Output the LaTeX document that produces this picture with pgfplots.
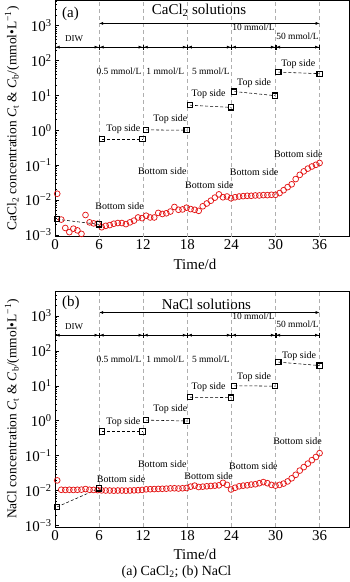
\documentclass[border=0pt]{standalone}
\usepackage{fontspec}
\setmainfont{Liberation Serif}
\usepackage{pgfplots}
\usepackage{pgfplotstable}
\pgfplotsset{compat=1.18}
\usetikzlibrary{arrows.meta}

\definecolor{cred}{RGB}{228,24,24}
\definecolor{vgray}{RGB}{175,175,175}

\pgfplotstableread{
x y
0.3 0.0151
0.85 0.00275
1.4 0.00158
1.95 0.0012
2.5 0.00151
3.05 0.00135
3.6 0.00107
4.15 0.00372
4.7 0.00229
5.25 0.00214
5.8 0.00209
6.35 0.00166
6.9 0.00182
7.45 0.00191
8.0 0.00209
8.55 0.00219
9.1 0.00219
9.65 0.00204
10.2 0.00229
10.75 0.00257
11.3 0.00316
11.85 0.00302
12.4 0.00355
12.95 0.00316
13.5 0.00316
14.05 0.00427
14.6 0.00398
15.15 0.00417
15.7 0.00468
16.25 0.00631
16.8 0.00525
17.35 0.00537
17.9 0.00603
18.45 0.0055
19.0 0.00525
19.55 0.0049
20.1 0.00661
20.65 0.00794
21.2 0.00955
21.75 0.0117
22.3 0.0145
22.85 0.012
23.4 0.0126
23.95 0.0112
24.5 0.012
25.05 0.0126
25.6 0.0129
26.15 0.0132
26.7 0.0132
27.25 0.0135
27.8 0.0135
28.35 0.0138
28.9 0.0138
29.45 0.0141
30.0 0.0141
30.55 0.0158
31.1 0.0191
31.65 0.0234
32.2 0.0282
32.75 0.0398
33.3 0.0525
33.85 0.0661
34.4 0.0794
34.95 0.0912
35.5 0.102
36.0 0.115
}\cacl

\pgfplotstableread{
x y
0.3 0.0195
0.85 0.0105
1.4 0.0104
1.95 0.0105
2.5 0.0104
3.05 0.0105
3.6 0.0106
4.15 0.0110
4.7 0.0105
5.25 0.0104
5.8 0.0103
6.35 0.0101
6.9 0.0100
7.45 0.0100
8.0 0.0099
8.55 0.0100
9.1 0.0100
9.65 0.0099
10.2 0.0100
10.75 0.0101
11.3 0.0102
11.85 0.0104
12.4 0.0108
12.95 0.0109
13.5 0.0110
14.05 0.0111
14.6 0.0112
15.15 0.0113
15.7 0.0115
16.25 0.0116
16.8 0.0114
17.35 0.0116
17.9 0.0118
18.45 0.0129
19.0 0.0138
19.55 0.0126
20.1 0.0129
20.65 0.0132
21.2 0.0135
21.75 0.0138
22.3 0.0141
22.85 0.0166
23.4 0.0145
23.95 0.0107
24.5 0.0120
25.05 0.0132
25.6 0.0138
26.15 0.0141
26.7 0.0148
27.25 0.0151
27.8 0.0162
28.35 0.0174
28.9 0.0162
29.45 0.0145
30.0 0.0138
30.55 0.0145
31.1 0.0158
31.65 0.0182
32.2 0.0224
32.75 0.0282
33.3 0.0372
33.85 0.0468
34.4 0.0589
34.95 0.0741
35.5 0.0912
36.0 0.1175
}\nacl

\tikzset{
  mycirc/.style={only marks, mark=o, mark size=2.9bp, cred, line width=0.75pt},
  mysq/.style={black, densely dashed, line width=0.55pt, mark=square, mark size=2.6bp, mark options={solid, line width=1.1pt}},
  myts/.style={font=\fontsize{10}{10}\selectfont, inner sep=0pt},
  myms/.style={font=\fontsize{9.5}{10}\selectfont, inner sep=0pt},
  myarr/.style={black, line width=0.55pt, {Bar[width=5bp]Latex[length=4bp,width=3bp]}-{Latex[length=4bp,width=3bp]Bar[width=5bp]}},
  mylarr/.style={black, line width=0.55pt, {Latex[length=4bp,width=3bp]}-{Latex[length=4bp,width=3bp]}},
  myvl/.style={vgray, dash pattern=on 4bp off 3bp, line width=0.6pt},
}

\pgfplotsset{mypanel/.style={
  scale only axis, width=294bp, height=236bp,
  xmin=0, xmax=40, ymin=9e-4, ymax=5200,
  xtick={0,6,12,18,24,30,36},
  ytick={1e-3,1e-2,1e-1,1,10,100,1000},
  yticklabels={10\textsuperscript{−3},10\textsuperscript{−2},10\textsuperscript{−1},10\textsuperscript{0},10\textsuperscript{1},10\textsuperscript{2},10\textsuperscript{3}},
  minor ytick={2e-3,3e-3,4e-3,5e-3,6e-3,7e-3,8e-3,9e-3,2e-2,3e-2,4e-2,5e-2,6e-2,7e-2,8e-2,9e-2,0.2,0.3,0.4,0.5,0.6,0.7,0.8,0.9,2,3,4,5,6,7,8,9,20,30,40,50,60,70,80,90,200,300,400,500,600,700,800,900,2000,3000,4000,5000},
  tick align=inside, xtick pos=left, ytick pos=left,
  major tick length=4bp, minor tick length=2.2bp,
  tick style={black, line width=0.5pt},
  tick label style={font=\fontsize{15}{15}\selectfont},
  xlabel style={font=\fontsize{15}{15}\selectfont, at={(axis description cs:0.476,0)}, anchor=north, inner sep=0pt, yshift=-22bp},
  ylabel style={font=\fontsize{13.5}{14}\selectfont, at={(axis description cs:-0.146,0.5)}, anchor=center},
  axis line style={black, line width=0.6pt},
  clip=false,
}}

\begin{document}
\begin{tikzpicture}
\useasboundingbox (0bp,0bp) rectangle (350bp,-582bp);

% ---------- panel (a) ----------
\begin{semilogyaxis}[mypanel, at={(55bp,-236.5bp)}, anchor=south west,
  xticklabel style={/pgf/number format/assume math mode=true},
  xlabel={Time/d},
  ylabel={CaCl\textsubscript{2} concentration \textit{C}\textsubscript{t} \& \textit{C}\textsubscript{b}/(mmol•L\textsuperscript{−1})}]
  \pgfplotsinvokeforeach{6,12,18,24,30,36}{\draw[myvl] (axis cs:#1,9e-4) -- (axis cs:#1,5200);}
  \addplot[mycirc] table[x=x,y=y] {\cacl};
  \addplot[mysq] coordinates {(0.3,0.0028) (6.0,0.0020)};
  \addplot[mysq] coordinates {(6.4,0.55) (11.9,0.55)};
  \addplot[mysq] coordinates {(12.4,1.02) (17.9,1.0)};
  \addplot[mysq] coordinates {(18.4,5.2) (23.9,4.5)};
  \addplot[mysq] coordinates {(24.4,12.8) (29.9,9.8)};
  \addplot[mysq] coordinates {(30.4,46) (36,41.7)};
  \node[font=\fontsize{15}{15}\selectfont, anchor=west, inner sep=0pt] at (axis cs:0.95,2188) {(a)};
  \node[font=\fontsize{15}{15}\selectfont, inner sep=0pt] at (axis cs:19.6,2692) {CaCl\textsubscript{2} solutions};
  \draw[mylarr] (axis cs:6,1148) -- (axis cs:36,1148);
  \node[myms] at (axis cs:27.0,871) {10 mmol/L};
  \node[font=\fontsize{9}{9}\selectfont, inner sep=0pt] at (axis cs:2.6,427) {DIW};
  \node[myms] at (axis cs:33.0,501) {50 mmol/L};
  \draw[myarr] (axis cs:0,240) -- (axis cs:6,240);
  \draw[myarr] (axis cs:6,240) -- (axis cs:12,240);
  \draw[myarr] (axis cs:12,240) -- (axis cs:18,240);
  \draw[myarr] (axis cs:18,240) -- (axis cs:24,240);
  \draw[myarr] (axis cs:24,240) -- (axis cs:30,240);
  \draw[myarr] (axis cs:30,240) -- (axis cs:36,240);
  \node[myms] at (axis cs:8.7,49) {0.5 mmol/L};
  \node[myms] at (axis cs:15.0,49) {1 mmol/L};
  \node[myms] at (axis cs:21.2,49) {5 mmol/L};
  \node[myts] at (axis cs:9.3,1.07) {Top side};
  \node[myts] at (axis cs:15.7,2.09) {Top side};
  \node[myts] at (axis cs:20.9,10.5) {Top side};
  \node[myts] at (axis cs:27.1,21.9) {Top side};
  \node[myts] at (axis cs:33.1,77.6) {Top side};
  \node[myts] at (axis cs:8.8,0.0069) {Bottom side};
  \node[myts] at (axis cs:14.6,0.0676) {Bottom side};
  \node[myts] at (axis cs:21.0,0.0275) {Bottom side};
  \node[myts] at (axis cs:27.1,0.0646) {Bottom side};
  \node[myts] at (axis cs:33.1,0.209) {Bottom side};
\end{semilogyaxis}

% ---------- panel (b) ----------
\begin{semilogyaxis}[mypanel, at={(55bp,-527bp)}, anchor=south west,
  xticklabel style={/pgf/number format/assume math mode=true},
  xlabel={Time/d},
  ylabel={NaCl concentration \textit{C}\textsubscript{t} \& \textit{C}\textsubscript{b}/(mmol•L\textsuperscript{−1})}]
  \pgfplotsinvokeforeach{6,12,18,24,30,36}{\draw[myvl] (axis cs:#1,9e-4) -- (axis cs:#1,5200);}
  \addplot[mycirc] table[x=x,y=y] {\nacl};
  \addplot[mysq] coordinates {(0.3,0.0034) (6.0,0.0115)};
  \addplot[mysq] coordinates {(6.4,0.49) (11.9,0.49)};
  \addplot[mysq] coordinates {(12.4,1.04) (17.9,0.98)};
  \addplot[mysq] coordinates {(18.4,4.7) (23.9,4.6)};
  \addplot[mysq] coordinates {(24.4,10.0) (29.9,9.8)};
  \addplot[mysq] coordinates {(30.4,47.7) (36,38)};
  \node[font=\fontsize{15}{15}\selectfont, anchor=west, inner sep=0pt] at (axis cs:0.95,2399) {(b)};
  \node[font=\fontsize{15}{15}\selectfont, inner sep=0pt] at (axis cs:20.6,2089) {NaCl solutions};
  \draw[mylarr] (axis cs:6,1259) -- (axis cs:36,1259);
  \node[myms] at (axis cs:27.0,977) {10 mmol/L};
  \node[font=\fontsize{9}{9}\selectfont, inner sep=0pt] at (axis cs:2.6,490) {DIW};
  \node[myms] at (axis cs:33.0,575) {50 mmol/L};
  \draw[myarr] (axis cs:0,282) -- (axis cs:6,282);
  \draw[myarr] (axis cs:6,282) -- (axis cs:12,282);
  \draw[myarr] (axis cs:12,282) -- (axis cs:18,282);
  \draw[myarr] (axis cs:18,282) -- (axis cs:24,282);
  \draw[myarr] (axis cs:24,282) -- (axis cs:30,282);
  \draw[myarr] (axis cs:30,282) -- (axis cs:36,282);
  \node[myms] at (axis cs:8.7,59) {0.5 mmol/L};
  \node[myms] at (axis cs:15.0,59) {1 mmol/L};
  \node[myms] at (axis cs:21.2,59) {5 mmol/L};
  \node[myts] at (axis cs:9.3,0.91) {Top side};
  \node[myts] at (axis cs:15.7,2.09) {Top side};
  \node[myts] at (axis cs:20.9,8.9) {Top side};
  \node[myts] at (axis cs:27.1,18.2) {Top side};
  \node[myts] at (axis cs:33.2,69) {Top side};
  \node[myts] at (axis cs:9.0,0.0209) {Bottom side};
  \node[myts] at (axis cs:14.6,0.0562) {Bottom side};
  \node[myts] at (axis cs:20.9,0.0257) {Bottom side};
  \node[myts] at (axis cs:27.0,0.049) {Bottom side};
  \node[myts] at (axis cs:33.0,0.257) {Bottom side};
\end{semilogyaxis}

\node[font=\fontsize{14}{14}\selectfont, inner sep=0pt] at (176.5bp,-572bp) {(a) CaCl\textsubscript{2}; (b) NaCl};
\end{tikzpicture}
\end{document}
